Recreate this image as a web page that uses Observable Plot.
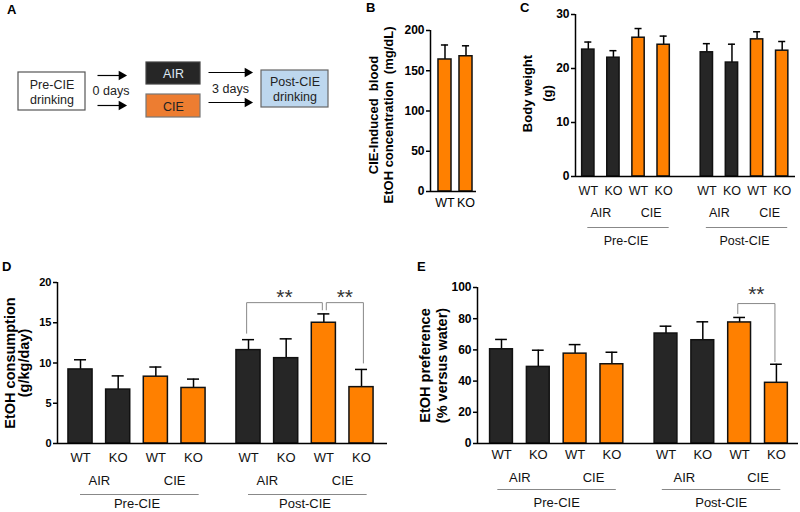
<!DOCTYPE html>
<html><head><meta charset="utf-8">
<script src="https://cdn.jsdelivr.net/npm/d3@7"></script>
<script src="https://cdn.jsdelivr.net/npm/@observablehq/plot@0.6"></script>
<style>
body{margin:0;background:#fff;}
#fig{position:relative;width:800px;height:512px;overflow:hidden;background:#fff;font-family:"Liberation Sans",Arial,Helvetica,sans-serif;}
#fig > svg{position:absolute;}
.lab{position:absolute;font-weight:bold;font-size:13px;line-height:1;color:#000;}
</style></head><body><div id="fig"></div>
<script>
// ---------- data ----------
const genotypes = ["WT","KO","WT","KO","WT","KO","WT","KO"];
const treatments = ["AIR","AIR","CIE","CIE","AIR","AIR","CIE","CIE"];
const phases = ["Pre-CIE","Pre-CIE","Pre-CIE","Pre-CIE","Post-CIE","Post-CIE","Post-CIE","Post-CIE"];

const becGenotypes = ["WT","KO"];
const becMean = [164,168];
const becSEM = [18,13];
const becTicks = [0,50,100,150,200];

const weightMean = [23.5,22.0,25.7,24.4,23.0,21.1,25.4,23.3];
const weightSEM = [1.4,1.3,1.7,1.6,1.6,3.4,1.4,1.7];
const weightTicks = [0,10,20,30];

const consumptionMean = [9.2,6.7,8.3,6.9,11.6,10.6,15.0,7.0];
const consumptionSEM = [1.2,1.7,1.2,1.1,1.3,2.4,1.1,2.2];
const consumptionTicks = [0,5,10,15,20];
const consumptionSig = [{from:4,to:6,label:"**"},{from:6,to:7,label:"**"}];

const preferenceMean = [60.4,49.1,57.6,50.8,70.5,66.2,77.6,38.9];
const preferenceSEM = [6.3,10.7,5.8,7.7,4.7,11.8,3.2,11.9];
const preferenceTicks = [0,20,40,60,80,100];
const preferenceSig = [{from:6,to:7,label:"**"}];

const stepLabels = ["Pre-CIE\ndrinking","AIR","CIE","Post-CIE\ndrinking"];
const delayLabels = ["0 days","3 days"];
const panelLetters = ["A","B","C","D","E"];

// ---------- styles / layout ----------
const DARK = "#262626", ORANGE = "#ff8000";
const FONT = "'Liberation Sans', Arial, Helvetica, sans-serif";
const fig = document.getElementById("fig");

function place(svg, left, top){
  svg.style.left = left + "px"; svg.style.top = top + "px";
  fig.appendChild(svg);
}

// ---------- panel A : diagram ----------
const boxLayout = [
  {x1:18,x2:85,y1:72,y2:110,fill:"#fff",stroke:"#555",color:"#222"},
  {x1:146,x2:200,y1:62,y2:84,fill:"#262626",stroke:"#444",color:"#dfe9f5"},
  {x1:146,x2:200,y1:94,y2:117,fill:"#ed7d31",stroke:"#777",color:"#222"},
  {x1:261,x2:328,y1:70,y2:107,fill:"#bdd7ee",stroke:"#666",color:"#222"}
];
const boxes = stepLabels.map((t,i)=>({...boxLayout[i], text:t, cx:(boxLayout[i].x1+boxLayout[i].x2)/2, cy:(boxLayout[i].y1+boxLayout[i].y2)/2}));
const arrowLayout = [{x1:97,x2:126,y:75},{x1:97,x2:126,y:105},{x1:208,x2:252,y:72},{x1:208,x2:252,y:102}];
const noteLayout = [{x:110.5,y:90},{x:230,y:88}];
const notes = delayLabels.map((t,i)=>({...noteLayout[i], text:t}));

const diagram = Plot.plot({
  width:340, height:160, margin:0,
  x:{type:"linear",domain:[0,340],range:[0,340],axis:null},
  y:{type:"linear",domain:[0,160],range:[0,160],axis:null},
  style:{fontFamily:FONT, background:"transparent", color:"#000", overflow:"visible"},
  marks:[
    Plot.rect(boxes,{x1:"x1",x2:"x2",y1:"y1",y2:"y2",fill:"fill",stroke:"stroke",strokeWidth:1.2}),
    Plot.text(boxes,{x:"cx",y:"cy",text:"text",fill:"color",fontSize:12.5,lineHeight:1.2}),
    Plot.link(arrowLayout,{x1:"x1",x2:d=>d.x2-6,y1:"y",y2:"y",stroke:"#000",strokeWidth:1.2}),
    Plot.dot(arrowLayout,{x:d=>d.x2-5,y:"y",symbol:"triangle",rotate:90,r:3.6,fill:"#000",stroke:null}),
    Plot.text(notes,{x:"x",y:"y",text:"text",fontSize:12.5,fill:"#222"})
  ]
});
place(diagram,0,0);

// ---------- panel B ----------
function panelB(){
  const rows = becGenotypes.map((g,i)=>({pos:i, v:becMean[i], top:becMean[i]+becSEM[i], geno:g}));
  const x0=-0.69, x1=1.5, half=0.31, cap=0.17, yMax=becTicks[becTicks.length-1];
  return Plot.plot({
    width:140, height:250, marginLeft:90, marginRight:4, marginTop:30, marginBottom:59,
    x:{type:"linear",domain:[x0,x1],axis:null},
    y:{domain:[0,yMax],axis:null},
    style:{fontFamily:FONT, background:"transparent", color:"#000", overflow:"visible"},
    marks:[
      Plot.ruleX(rows,{x:"pos",y1:"v",y2:"top",stroke:"#000",strokeWidth:1.5}),
      Plot.ruleY(rows,{y:"top",x1:d=>d.pos-cap,x2:d=>d.pos+cap,stroke:"#000",strokeWidth:1.5}),
      Plot.rect(rows,{x1:d=>d.pos-half,x2:d=>d.pos+half,y1:0,y2:"v",fill:ORANGE,stroke:"#111",strokeWidth:1.5}),
      Plot.ruleX([x0],{y1:0,y2:yMax,stroke:"#000",strokeWidth:1.5}),
      Plot.ruleY([0],{x1:x0,x2:x1,stroke:"#000",strokeWidth:1.5}),
      Plot.axisY({ticks:becTicks,tickSize:4,tickPadding:2,fontSize:12,fontWeight:"bold",strokeWidth:1.5,label:null}),
      Plot.text(rows,{x:"pos",y:0,text:"geno",dy:11,fontSize:12.5}),
      Plot.text(["CIE-Induced\u00a0 blood"],{text:d=>d,frameAnchor:"left",textAnchor:"middle",dx:-57,dy:4,rotate:-90,fontSize:13,fontWeight:"bold"}),
      Plot.text(["EtOH concentration\u00a0 (mg/dL)"],{text:d=>d,frameAnchor:"left",textAnchor:"middle",dx:-42,dy:4,rotate:-90,fontSize:13,fontWeight:"bold"})
    ]
  });
}
place(panelB(),340,0);

// ---------- grouped panels C, D, E ----------
function groupedPanel(cfg){
  const pos = i => i + (i>=4 ? cfg.gap : 0);
  const rows = cfg.mean.map((v,i)=>({pos:pos(i), v, top:v+cfg.sem[i], geno:genotypes[i], trt:treatments[i]}));
  const trtGroups = [0,2,4,6].map(i=>({x:(pos(i)+pos(i+1))/2, text:treatments[i]}));
  const phaseGroups = [0,4].map(i=>({x1:pos(i)+cfg.lineL, x2:pos(i+3)+cfg.lineR, x:(pos(i)+pos(i+3))/2, text:phases[i]}));
  const [x0,x1] = cfg.xDomain;
  const yMax = cfg.ticks[cfg.ticks.length-1];
  const bracketPts = [], stars = [];
  (cfg.sig||[]).forEach((s,k)=>{
    const b = cfg.brackets[k];
    const a = pos(s.from)+b.dl, c = pos(s.to)+b.dr;
    bracketPts.push({k,x:a,y:b.yl},{k,x:a,y:b.top},{k,x:c,y:b.top},{k,x:c,y:b.yr});
    stars.push({x:(a+c)/2, y:b.star, text:s.label});
  });
  const svg = Plot.plot({
    width:cfg.w, height:cfg.h, marginLeft:cfg.ml, marginRight:cfg.mr, marginTop:cfg.mt, marginBottom:cfg.mb,
    x:{type:"linear",domain:[x0,x1],axis:null},
    y:{domain:[0,yMax],axis:null},
    style:{fontFamily:FONT, background:"transparent", color:"#000", overflow:"visible"},
    marks:[
      Plot.ruleX(rows,{x:"pos",y1:"v",y2:"top",stroke:"#000",strokeWidth:1.5}),
      Plot.ruleY(rows,{y:"top",x1:d=>d.pos-cfg.cap,x2:d=>d.pos+cfg.cap,stroke:"#000",strokeWidth:1.5}),
      Plot.rect(rows,{x1:d=>d.pos-cfg.half,x2:d=>d.pos+cfg.half,y1:0,y2:"v",fill:d=>d.trt==="AIR"?DARK:ORANGE,stroke:"#111",strokeWidth:1.5}),
      Plot.ruleX([x0],{y1:0,y2:yMax,stroke:"#000",strokeWidth:1.5}),
      Plot.ruleY([0],{x1:x0,x2:x1,stroke:"#000",strokeWidth:1.5}),
      Plot.axisY({ticks:cfg.ticks,tickSize:4,tickPadding:2,fontSize:cfg.tickFont,fontWeight:"bold",strokeWidth:1.5,label:null}),
      Plot.text(rows,{x:"pos",y:0,text:"geno",dy:cfg.dyGeno,fontSize:cfg.xFont,fill:"#111"}),
      Plot.text(trtGroups,{x:"x",y:0,text:"text",dy:cfg.dyTrt,fontSize:cfg.xFont,fill:"#111"}),
      Plot.ruleY(phaseGroups,{y:0,x1:"x1",x2:"x2",dy:cfg.dyLine,stroke:"#888",strokeWidth:1}),
      Plot.text(phaseGroups,{x:"x",y:0,text:"text",dy:cfg.dyPhase,fontSize:cfg.xFont,fill:"#111"}),
      Plot.line(bracketPts,{x:"x",y:"y",z:"k",stroke:"#888",strokeWidth:1}),
      Plot.text(stars,{x:"x",y:"y",text:"text",fontSize:21,fill:"#333"}),
      Plot.text([cfg.ylab[0]],{text:d=>d,frameAnchor:"left",textAnchor:"middle",dx:cfg.ylabDx[0],dy:cfg.ylabDy||0,rotate:-90,fontSize:cfg.ylabFont,fontWeight:"bold"}),
      Plot.text([cfg.ylab[1]],{text:d=>d,frameAnchor:"left",textAnchor:"middle",dx:cfg.ylabDx[1],dy:cfg.ylabDy||0,rotate:-90,fontSize:cfg.ylabFont,fontWeight:"bold"})
    ]
  });
  place(svg, cfg.left, cfg.top);
}

groupedPanel({mean:weightMean, sem:weightSEM, ticks:weightTicks,
  left:470, top:0, w:330, h:250, ml:105, mr:5, mt:14, mb:74,
  xDomain:[-0.51,8.25], gap:0.72, half:0.245, cap:0.14,
  tickFont:12, xFont:12.5, dyGeno:14, dyTrt:36.5, dyLine:51, dyPhase:64, lineL:-0.02, lineR:0.22,
  ylab:["Body weight","(g)"], ylabDx:[-48,-28], ylabDy:-2, ylabFont:13});

groupedPanel({mean:consumptionMean, sem:consumptionSEM, ticks:consumptionTicks, sig:consumptionSig,
  left:0, top:250, w:400, h:262, ml:57, mr:13, mt:32, mb:69,
  xDomain:[-0.611,8.15], gap:0.46, half:0.32, cap:0.16,
  tickFont:11, xFont:13, dyGeno:14, dyTrt:37, dyLine:51, dyPhase:60, lineL:0, lineR:0.15,
  brackets:[{dl:-0.05,dr:-0.04,yl:13.7,top:17.5,yr:16.6,star:18.2},{dl:0.065,dr:0.05,yl:16.6,top:17.5,yr:10.0,star:18.2}],
  ylab:["EtOH consumption","(g/kg/day)"], ylabDx:[-47,-33], ylabFont:14.5});

groupedPanel({mean:preferenceMean, sem:preferenceSEM, ticks:preferenceTicks, sig:preferenceSig,
  left:400, top:250, w:400, h:262, ml:77, mr:2, mt:37, mb:69,
  xDomain:[-0.652,8.07], gap:0.47, half:0.31, cap:0.16,
  tickFont:12, xFont:13, dyGeno:11, dyTrt:34, dyLine:46, dyPhase:59, lineL:-0.1, lineR:0.12,
  brackets:[{dl:-0.05,dr:-0.04,yl:83.3,top:89.7,yr:52.5,star:95.7}],
  ylab:["EtOH preference","(% versus water)"], ylabDx:[-52,-35], ylabFont:14.5});

// ---------- panel letters ----------
const letterPos = [[7,3],[366,1],[520,1],[2,260],[417,260]];
panelLetters.forEach((t,i)=>{
  const s = document.createElement("span");
  s.className = "lab"; s.textContent = t;
  s.style.left = letterPos[i][0]+"px"; s.style.top = letterPos[i][1]+"px";
  fig.appendChild(s);
});
</script></body></html>
